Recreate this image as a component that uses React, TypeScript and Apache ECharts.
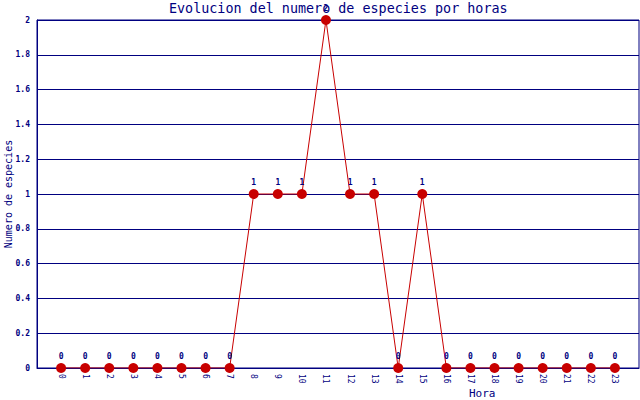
import React, { useEffect, useRef } from "react";
import * as echarts from "echarts";

const hours = [0, 1, 2, 3, 4, 5, 6, 7, 8, 9, 10, 11, 12, 13, 14, 15, 16, 17, 18, 19, 20, 21, 22, 23];
const species = [0, 0, 0, 0, 0, 0, 0, 0, 1, 1, 1, 2, 1, 1, 0, 1, 0, 0, 0, 0, 0, 0, 0, 0];

const titleText = "Evolucion del numero de especies por horas";
const xName = "Hora";
const yName = "Numero de especies";

const NAVY = "#000080";
const RED = "#c80000";
const FONT = "DejaVu Sans Mono";

export default function App() {
  const ref = useRef<HTMLDivElement>(null);
  useEffect(() => {
    if (!ref.current) return;
    const chart = echarts.init(ref.current, undefined, { renderer: "svg" });
    chart.setOption({
      animation: false,
      backgroundColor: "#ffffff",
      title: {
        text: titleText,
        left: 164,
        top: -3,
        textStyle: { fontFamily: FONT, fontSize: 13.4, fontWeight: "normal", color: NAVY },
      },
      grid: {
        left: 37,
        right: 1,
        top: 20,
        bottom: 32,
        show: true,
        borderColor: NAVY,
        borderWidth: 1,
        outerBoundsMode: "none",
        containLabel: false,
      },
      graphic: [
        {
          type: "text",
          left: 469,
          top: 388,
          style: { text: xName, fontFamily: FONT, fontSize: 11, fill: NAVY },
        },
        {
          type: "text",
          x: 8,
          y: 194,
          rotation: Math.PI / 2,
          style: {
            text: yName,
            fontFamily: FONT,
            fontSize: 10,
            fill: NAVY,
            align: "center",
            verticalAlign: "middle",
          },
        },
      ],
      xAxis: {
        type: "value",
        min: -1,
        max: 24,
        interval: 1,
        axisLine: { show: true, onZero: false, lineStyle: { color: NAVY, width: 1 } },
        axisTick: { show: false },
        splitLine: { show: false },
        axisLabel: {
          rotate: -90,
          fontFamily: FONT,
          fontSize: 8,
          color: NAVY,
          margin: 6,
          formatter: (v: number) => (hours.includes(v) ? String(v) : ""),
        },
      },
      yAxis: {
        type: "value",
        min: 0,
        max: 2,
        interval: 0.2,
        axisLine: { show: true, onZero: false, lineStyle: { color: NAVY, width: 1 } },
        axisTick: { show: false },
        splitLine: { show: true, lineStyle: { color: NAVY, width: 1 } },
        axisLabel: {
          fontFamily: FONT,
          fontSize: 8,
          fontWeight: "bold",
          color: NAVY,
          margin: 7,
          formatter: (v: number) => String(Math.round(v * 10) / 10),
        },
      },
      series: [
        {
          type: "line",
          data: hours.map((h, i) => [h, species[i]]),
          symbol: "circle",
          symbolSize: 10,
          lineStyle: { color: RED, width: 1 },
          itemStyle: { color: RED },
          label: {
            show: true,
            position: "top",
            distance: 3,
            fontFamily: FONT,
            fontSize: 8,
            fontWeight: "bold",
            color: NAVY,
            formatter: (p: any) => String(p.value[1]),
          },
          z: 3,
        },
      ],
    });
    return () => chart.dispose();
  }, []);
  return (
    <div
      ref={ref}
      style={{ position: "fixed", left: 0, top: 0, width: 640, height: 400 }}
    />
  );
}
